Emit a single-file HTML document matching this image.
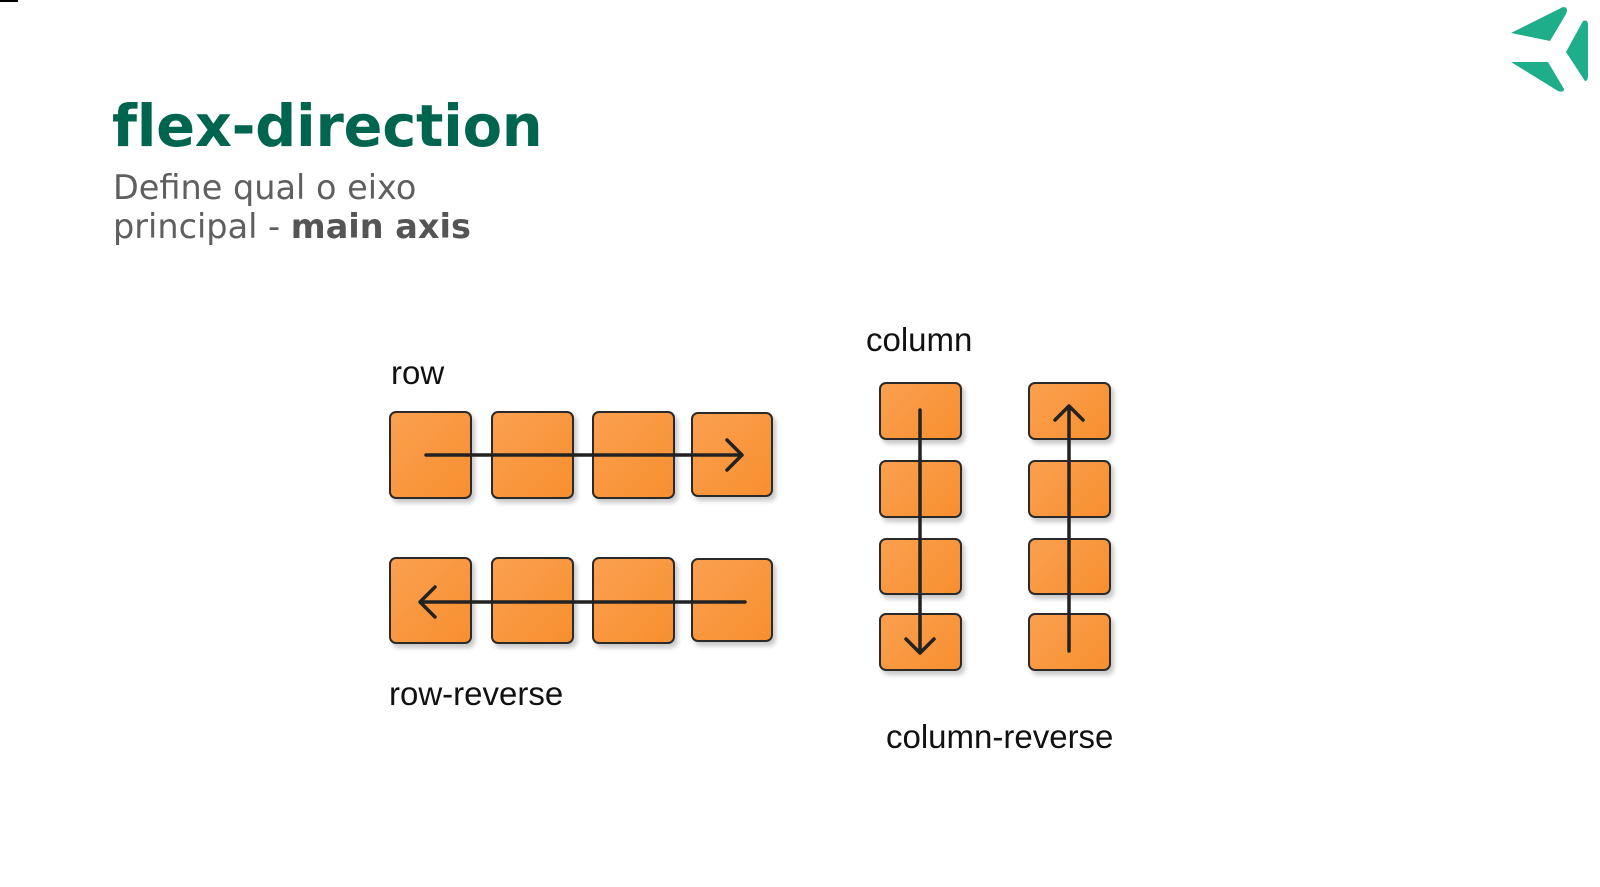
<!DOCTYPE html>
<html><head><meta charset="utf-8"><style>
html,body{margin:0;padding:0;background:#fff;}
body{width:1600px;height:887px;position:relative;overflow:hidden;font-family:"Liberation Sans",sans-serif;}
.t{position:absolute;white-space:nowrap;line-height:1;}
#title{left:112px;top:98px;font-family:"DejaVu Sans",sans-serif;font-weight:bold;font-size:57.5px;color:#00654f;letter-spacing:-0.3px;}
.sub{left:113px;font-family:"DejaVu Sans",sans-serif;font-size:33.5px;color:#5f5f5f;}
.lbl{font-size:33px;color:#111;}
.box{position:absolute;box-sizing:border-box;background:linear-gradient(135deg,#fba050,#f78f2f);border:2.5px solid #2c2a28;border-radius:7px;box-shadow:3px 4px 5px rgba(0,0,0,0.22);}
svg{position:absolute;left:0;top:0;}
</style></head><body>
<div style="position:absolute;left:0;top:0;width:18px;height:2px;background:#000"></div>
<div id="title" class="t">flex-direction</div>
<div class="t sub" style="top:171px">Define qual o eixo</div>
<div class="t sub" style="top:210px">principal - <b style="color:#555">main axis</b></div>

<div class="t lbl" style="left:391px;top:356px">row</div>
<div class="t lbl" style="left:389px;top:677px">row-reverse</div>
<div class="t lbl" style="left:866px;top:323px">column</div>
<div class="t lbl" style="left:886px;top:720px">column-reverse</div>

<div class="box" style="left:389px;top:411px;width:83px;height:88px"></div>
<div class="box" style="left:491px;top:411px;width:83px;height:88px"></div>
<div class="box" style="left:592px;top:411px;width:83px;height:88px"></div>
<div class="box" style="left:691px;top:412px;width:82px;height:85px"></div>

<div class="box" style="left:389px;top:557px;width:83px;height:87px"></div>
<div class="box" style="left:491px;top:557px;width:83px;height:87px"></div>
<div class="box" style="left:592px;top:557px;width:83px;height:87px"></div>
<div class="box" style="left:691px;top:558px;width:82px;height:84px"></div>

<div class="box" style="left:879px;top:382px;width:83px;height:58px"></div>
<div class="box" style="left:879px;top:460px;width:83px;height:58px"></div>
<div class="box" style="left:879px;top:538px;width:83px;height:57px"></div>
<div class="box" style="left:879px;top:613px;width:83px;height:58px"></div>

<div class="box" style="left:1028px;top:382px;width:83px;height:58px"></div>
<div class="box" style="left:1028px;top:460px;width:83px;height:58px"></div>
<div class="box" style="left:1028px;top:538px;width:83px;height:57px"></div>
<div class="box" style="left:1028px;top:613px;width:83px;height:58px"></div>

<svg width="1600" height="887">
  <g stroke="#222" stroke-width="3.5" fill="none" stroke-linecap="round" stroke-linejoin="round">
    <path d="M426 455 L742 455 M727 440 L742 455 L727 470"/>
    <path d="M745 602 L420 602 M435 587 L420 602 L435 617"/>
    <path d="M920 410 L920 653 M906 639 L920 653 L934 639"/>
    <path d="M1069 651 L1069 406 M1055 420 L1069 406 L1083 420"/>
  </g>
  <g fill="#1fae8a">
    <path d="M1511 33 L1563 7 Q1569 7 1566 14 L1550 41 Z"/>
    <path d="M1511 62 L1548 62 L1564 89 Q1564 93 1558 91 Z"/>
    <path d="M1583 21 L1566 52 L1585 81 Q1588 81 1588 76 L1588 25 Q1588 19 1583 21 Z"/>
  </g>
</svg>
</body></html>
